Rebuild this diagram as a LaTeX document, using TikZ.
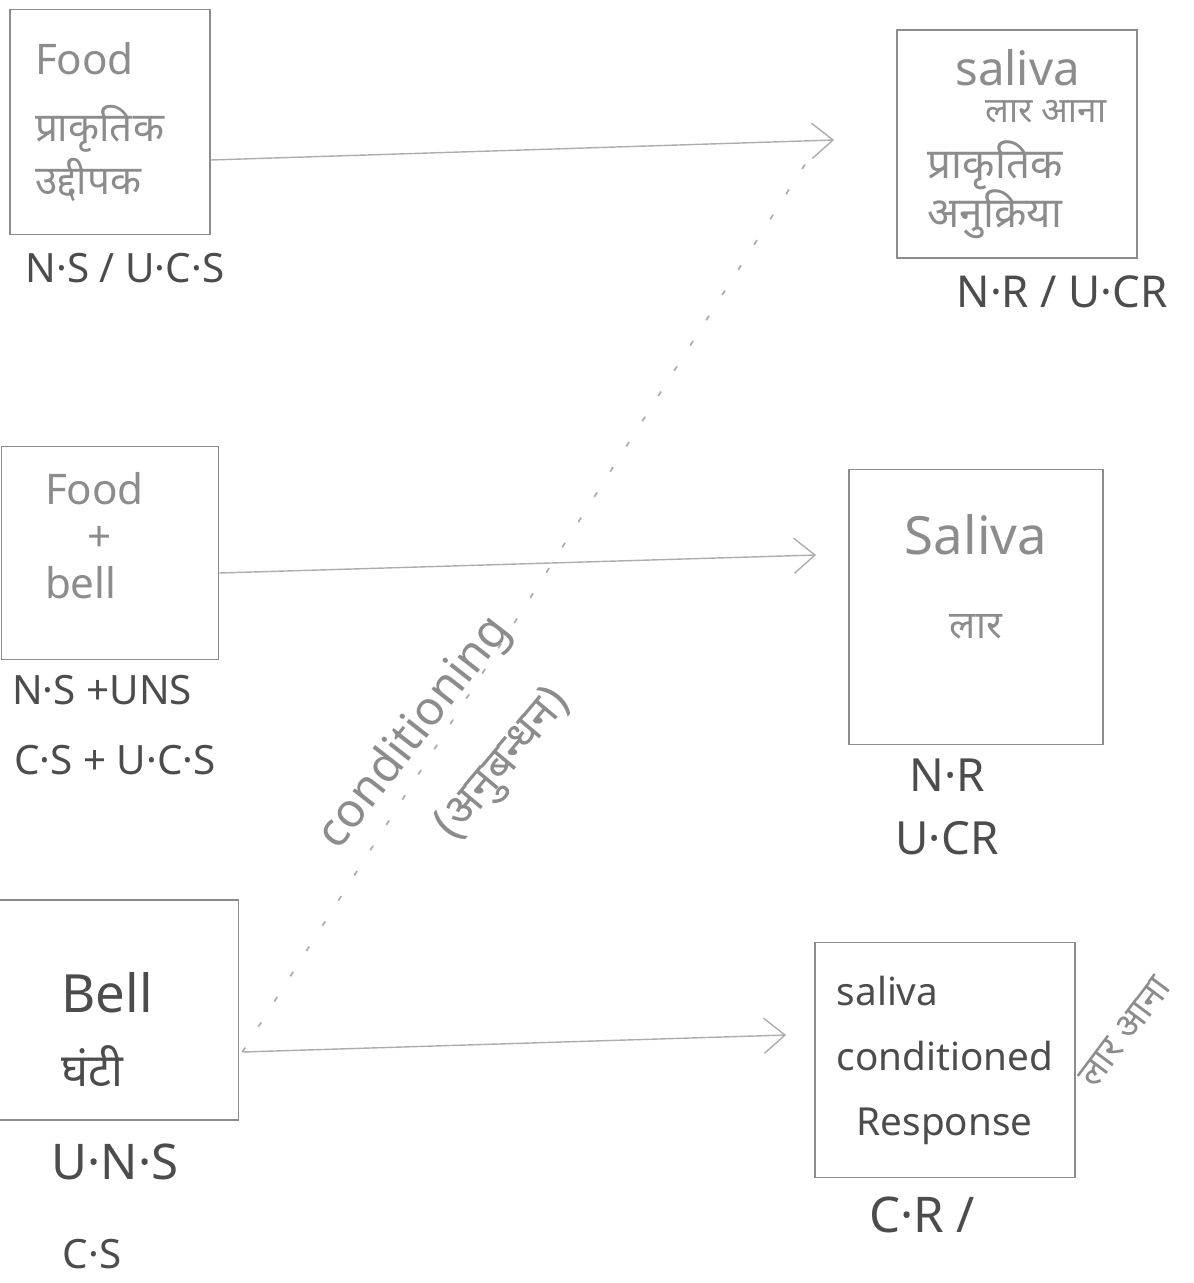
\documentclass[tikz,border=0pt]{standalone}
\usepackage{fontspec}
\setmainfont{Noto Sans}
\newfontfamily\hin[Script=Devanagari]{Noto Sans}
\usepackage{tikz}
\usetikzlibrary{shapes,arrows.meta,calc}
\definecolor{pencil}{gray}{0.55}
\definecolor{ink}{gray}{0.3}
\definecolor{light}{gray}{0.68}
\newcommand{\dev}[2][20]{{\hin\fontsize{#1}{#1}\selectfont #2}}
\tikzstyle{line} = [draw=light, line width=0.8pt, -{Straight Barb[length=12pt,width=20pt]}]
\tikzstyle{dots} = [draw=light, line width=1pt, dash pattern=on 3pt off 14pt]
\tikzstyle{block} = [draw=pencil, line width=1pt, rectangle, text centered, align=center, text=pencil, font=\fontsize{24}{32}\selectfont]
\tikzstyle{lbl} = [text=ink, font=\fontsize{23}{26}\selectfont]

\begin{document}
\begin{tikzpicture}[node distance=1.5cm, auto]
        \useasboundingbox (0,0) rectangle (23.88,-25.66);
        \node[block, minimum width=4cm, minimum height=4.5cm, text width=3cm, align=left] (food) at (2.2,-2.44) {Food\\[6pt]\dev[23]{प्राकृतिक}\\[-2pt]\dev[23]{उद्दीपक}};
        \node[block, below of=food, node distance=8.62cm, minimum width=4.34cm, minimum height=4.26cm, text width=2.6cm, align=left] (foodbell) {Food\\[-5pt]\hspace*{0.85cm}+\\[-5pt]bell\rule[-20pt]{0pt}{0pt}};
        \node[block, below of=foodbell, node distance=9.14cm, xshift=0.18cm, minimum width=4.78cm, minimum height=4.4cm, text width=2.3cm, align=left, text=ink, font=\fontsize{30}{38}\selectfont] (bell) {\rule{0pt}{45pt}Bell\\[4pt]\dev[26]{घंटी}};
        \node[block, right of=food, node distance=18.14cm, yshift=-0.44cm, minimum width=4.8cm, minimum height=4.56cm, align=left, font=\fontsize{27}{30}\selectfont] (saliva1) {\hspace*{0.55cm}saliva\\[-9pt]\hspace*{1.15cm}\dev{लार आना}\\[2pt]\dev[24]{प्राकृतिक}\\[-2pt]\dev[24]{अनुक्रिया}};
        \node[block, right of=foodbell, node distance=17.32cm, yshift=-1.08cm, minimum width=5.08cm, minimum height=5.5cm, font=\fontsize{30}{36}\selectfont] (saliva2) {Saliva\\[12pt]\dev[22]{लार}\hspace*{0.9cm}\\[-12pt]\strut};
        \node[block, right of=bell, node distance=16.52cm, yshift=-1.0cm, minimum width=5.2cm, minimum height=4.7cm, align=left, text=ink, font=\fontsize{22}{37}\selectfont] (saliva3) {saliva\\conditioned\\\hspace*{0.4cm}Response};
        % labels under the boxes
        \node[lbl, below of=food, node distance=2.92cm, xshift=0.3cm] (nsucs) {N·S / U·C·S};
        \node[lbl, below of=saliva1, node distance=2.96cm, xshift=0.9cm, font=\fontsize{25}{28}\selectfont] (nrucr) {N·R / U·CR};
        \node[lbl, below of=foodbell, node distance=2.74cm, xshift=-0.16cm] (nsuns) {N·S +UNS};
        \node[lbl, below of=nsuns, node distance=1.4cm, xshift=0.26cm] (csucs) {C·S + U·C·S};
        \node[lbl, below of=saliva2, node distance=3.36cm, xshift=-0.58cm, font=\fontsize{26}{28}\selectfont] (nr) {N·R};
        \node[lbl, below of=nr, node distance=1.26cm, font=\fontsize{26}{28}\selectfont] (ucr) {U·CR};
        \node[lbl, below of=bell, node distance=3.04cm, xshift=-0.08cm, font=\fontsize{28}{30}\selectfont] (uns) {U·N·S};
        \node[lbl, below of=uns, node distance=1.84cm, xshift=-0.46cm] (cs) {C·S};
        \node[lbl, below of=saliva3, node distance=3.1cm, xshift=-0.46cm, font=\fontsize{28}{30}\selectfont] (cr) {C·R /};
        \node[lbl, text=pencil, rotate=52, font=\fontsize{27}{30}\selectfont] (condlbl) at (8.3,-14.66) {conditioning};
        \node[lbl, text=pencil, rotate=50, font=\fontsize{27}{30}\selectfont] (anubandhan) at (10.08,-15.3) {(\dev[26]{अनुबन्धन})};
        \node[lbl, text=pencil, rotate=53] (laraana) at (22.5,-20.64) {\dev[21]{लार आना}};
        % connectors
        \coordinate (foodout) at ([yshift=-0.76cm]food.east);
        \coordinate (sal1in) at ([xshift=-1.24cm, yshift=0.08cm]saliva1.west);
        \coordinate (fbout) at ([yshift=-0.4cm]foodbell.east);
        \coordinate (sal2in) at ([xshift=-0.64cm, yshift=1.04cm]saliva2.west);
        \coordinate (bellout) at ([xshift=0.06cm, yshift=-0.84cm]bell.east);
        \coordinate (sal3in) at ([xshift=-0.56cm, yshift=0.5cm]saliva3.west);
        \coordinate (condend) at ([xshift=-0.4cm, yshift=-0.2cm]sal1in);
        \path[line] (foodout) -- (sal1in);
        \path[line] (fbout) -- (sal2in);
        \path[line] (bellout) -- (sal3in);
        \path[dots] (bellout) -- (condend);
    \end{tikzpicture}
\end{document}
